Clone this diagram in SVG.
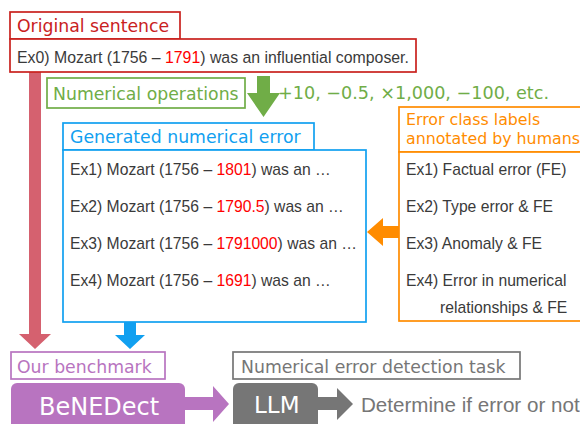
<svg xmlns="http://www.w3.org/2000/svg" width="580" height="424" viewBox="0 0 580 424">
  <style>
    .lbl { font-family: "DejaVu Sans", Verdana, sans-serif; font-size: 17.3px; }
    .body { font-family: "Liberation Sans", Arial, sans-serif; font-size: 15.7px; fill: #3a3a3a; }
    .num { fill: #ff0000; }
    .box { fill: #ffffff; stroke-width: 1.7; }
    .big { font-family: "DejaVu Sans", Verdana, sans-serif; font-size: 24px; fill: #ffffff; }
  </style>
  <rect width="580" height="424" fill="#ffffff"/>

  <!-- Block arrows -->
  <g id="connectors">
    <polygon fill="#d5616f" points="29,72 41,72 41,334 51,334 35,349 19,334 29,334"/>
    <polygon fill="#70ad47" points="257,76 270,76 270,93 280,93 263.5,117 247,93 257,93"/>
    <polygon fill="#ff8c00" points="399,226 383,226 383,218 367,232 383,246 383,238 399,238"/>
    <polygon fill="#11a0f0" points="124,322 136,322 136,335 145,335 130,349 115,335 124,335"/>
    <polygon fill="#b874c0" points="185,397 213,397 213,386 229,404 213,422 213,410 185,410"/>
    <polygon fill="#767676" points="318,397 337,397 337,388 353,404 337,420 337,410 318,410"/>
  </g>

  <!-- Source sentence -->
  <g id="original">
    <rect class="box" x="10" y="12" width="170" height="27" stroke="#c9211e"/>
    <text class="lbl" x="17" y="32" fill="#c9211e">Original sentence</text>
    <rect class="box" x="10" y="39" width="406" height="33" stroke="#c9211e"/>
    <text class="body" x="17" y="63" style="font-size:15.85px">Ex0) Mozart (1756 – <tspan class="num">1791</tspan>) was an influential composer.</text>
  </g>

  <!-- Perturbation step -->
  <g id="operations">
    <rect class="box" x="47" y="78" width="198" height="30" stroke="#70ad47"/>
    <text class="lbl" x="53" y="100" fill="#70ad47">Numerical operations</text>
    <text class="lbl" x="278" y="99" fill="#70ad47" style="font-size:17.6px">+10, −0.5, ×1,000, −100, etc.</text>
  </g>

  <!-- Perturbed examples -->
  <g id="generated">
    <rect class="box" x="63" y="123" width="251" height="27" stroke="#11a0f0"/>
    <text class="lbl" x="70" y="143" fill="#11a0f0">Generated numerical error</text>
    <rect class="box" x="63" y="150" width="303" height="172" stroke="#11a0f0"/>
    <text class="body" x="70" y="175">Ex1) Mozart (1756 – <tspan class="num">1801</tspan>) was an …</text>
    <text class="body" x="70" y="212">Ex2) Mozart (1756 – <tspan class="num">1790.5</tspan>) was an …</text>
    <text class="body" x="70" y="249">Ex3) Mozart (1756 – <tspan class="num">1791000</tspan>) was an …</text>
    <text class="body" x="70" y="286">Ex4) Mozart (1756 – <tspan class="num">1691</tspan>) was an …</text>
  </g>

  <!-- Human labels -->
  <g id="labels">
    <rect class="box" x="399" y="107" width="190" height="45" stroke="#ff8c00"/>
    <text class="lbl" x="406" y="125" fill="#ff8c00" style="font-size:15.8px">Error class labels</text>
    <text class="lbl" x="406" y="144" fill="#ff8c00" style="font-size:15.8px">annotated by humans</text>
    <rect class="box" x="399" y="152" width="190" height="169" stroke="#ff8c00"/>
    <text class="body" x="406" y="175">Ex1) Factual error (FE)</text>
    <text class="body" x="406" y="212">Ex2) Type error &amp; FE</text>
    <text class="body" x="406" y="249">Ex3) Anomaly &amp; FE</text>
    <text class="body" x="406" y="286">Ex4) Error in numerical</text>
    <text class="body" x="440" y="313">relationships &amp; FE</text>
  </g>

  <!-- Benchmark -->
  <g id="benchmark">
    <rect class="box" x="11" y="352" width="154" height="27" stroke="#b874c0"/>
    <text class="lbl" x="17" y="373" fill="#b874c0">Our benchmark</text>
    <rect x="11" y="383" width="174" height="50" rx="6" fill="#b874c0"/>
    <text class="big" x="39" y="415">BeNEDect</text>
  </g>

  <!-- Detection task -->
  <g id="task">
    <rect class="box" x="233" y="352" width="287" height="27" stroke="#767676"/>
    <text class="lbl" x="241" y="373" fill="#767676">Numerical error detection task</text>
    <rect x="233" y="383" width="85" height="50" rx="6" fill="#767676"/>
    <text class="big" x="254" y="413" style="font-size:23px">LLM</text>
    <text x="361" y="412" fill="#767676" style="font-family:'Liberation Sans', Arial, sans-serif; font-size:20.6px">Determine if error or not</text>
  </g>
</svg>
